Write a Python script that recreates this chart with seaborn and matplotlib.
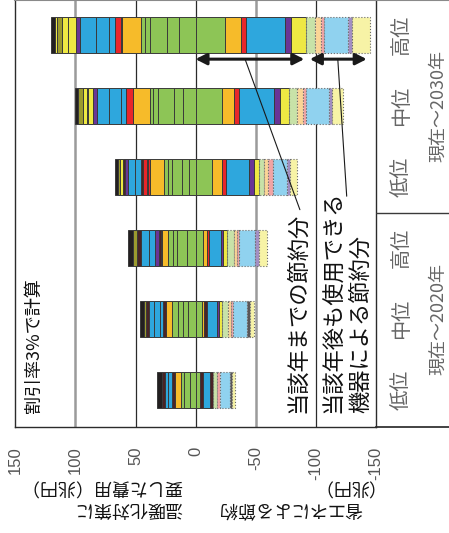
import matplotlib
matplotlib.use("Agg")
import matplotlib.pyplot as plt
import seaborn as sns
import pandas as pd

# ---- categories -------------------------------------------------------
periods = ["現在～2020年", "現在～2030年"]
levels = ["低位", "中位", "高位"]

# ---- segment values (兆円), listed from zero outward ---------------------
# sector codes: G green, A orange, R red, D dark brown, B blue, P purple,
# Y yellow, O olive, K black
cost_2020_low = [("G", 4.6), ("G", 5.0), ("G", 2.8), ("A", 4.75), ("D", 2.75),
                 ("B", 2.8), ("B", 2.75), ("D", 2.75), ("K", 4.2)]
cost_2020_mid = [("G", 6.0), ("G", 4.7), ("G", 4.2), ("G", 4.4), ("A", 5.3),
                 ("D", 2.2), ("B", 2.8), ("B", 5.0), ("B", 3.9), ("D", 2.8),
                 ("O", 1.7), ("K", 3.3)]
cost_2020_high = [("G", 7.3), ("G", 8.3), ("G", 2.8), ("G", 4.2), ("A", 5.5),
                  ("R", 1.0), ("D", 1.0), ("P", 3.6), ("B", 4.75), ("B", 7.2),
                  ("D", 2.8), ("O", 3.3), ("K", 4.2)]
cost_2030_low = [("G", 5.7), ("G", 5.3), ("G", 8.8), ("G", 3.3), ("G", 2.8),
                 ("A", 11.7), ("R", 1.7), ("D", 1.3), ("R", 2.8), ("D", 1.9),
                 ("B", 5.0), ("B", 6.1), ("P", 2.3), ("D", 1.4), ("Y", 2.8),
                 ("O", 1.9), ("K", 2.3)]
cost_2030_mid = [("G", 10.8), ("G", 7.4), ("G", 12.8), ("G", 4.7), ("G", 2.2),
                 ("A", 13.9), ("D", 0.5), ("R", 5.6), ("B", 4.4), ("B", 9.5),
                 ("B", 10.3), ("P", 3.1), ("Y", 4.1), ("Y", 1.1), ("Y", 3.1),
                 ("O", 4.2), ("K", 2.7)]
cost_2030_high = [("G", 13.8), ("G", 10.0), ("G", 14.2), ("G", 4.2), ("G", 3.6),
                  ("A", 15.8), ("D", 0.6), ("R", 5.0), ("B", 5.0), ("B", 10.9),
                  ("B", 13.0), ("P", 3.8), ("Y", 6.2), ("Y", 5.5), ("O", 3.9),
                  ("Y", 1.7), ("K", 3.2)]

# savings realised up to the target year
save_2020_low = [("G", 3.75), ("D", 2.75), ("B", 5.6), ("D", 2.8)]
save_2020_mid = [("G", 5.2), ("A", 1.9), ("D", 2.8), ("B", 8.3), ("P", 1.7), ("Y", 2.0)]
save_2020_high = [("G", 6.5), ("A", 3.3), ("R", 1.7), ("B", 9.5), ("P", 2.2), ("Y", 2.8)]
save_2030_low = [("G", 14.0), ("A", 7.8), ("R", 3.3), ("B", 19.7), ("P", 4.2), ("Y", 3.9)]
save_2030_mid = [("G", 21.7), ("A", 10.6), ("R", 4.2), ("B", 28.6), ("P", 5.0), ("Y", 8.1)]
save_2030_high = [("G", 24.8), ("A", 13.1), ("R", 3.9), ("B", 32.5), ("P", 5.5), ("Y", 12.0)]

# savings from equipment still in use after the target year
later_2020_low = [("G", 3.3), ("R", 2.2), ("B", 8.3), ("K", 1.4), ("Y", 2.75)]
later_2020_mid = [("G", 5.5), ("A", 2.0), ("R", 1.7), ("B", 12.2), ("K", 2.2), ("Y", 3.3)]
later_2020_high = [("G", 6.3), ("A", 2.5), ("R", 1.7), ("B", 13.1), ("P", 3.6), ("Y", 6.2)]
later_2030_low = [("G", 4.4), ("A", 3.3), ("R", 4.2), ("B", 11.1), ("P", 2.8), ("Y", 5.6)]
later_2030_mid = [("G", 6.4), ("A", 4.7), ("R", 2.8), ("B", 18.9), ("P", 2.8), ("Y", 8.9)]
later_2030_high = [("G", 7.75), ("A", 5.0), ("R", 2.9), ("B", 19.6), ("P", 3.3), ("Y", 15.0)]

value_ticks = [150, 100, 50, 0, -50, -100, -150]

# ---- styling ------------------------------------------------------------
sns.set_theme(style="white")
plt.rcParams["font.family"] = ["Noto Sans CJK JP", "DejaVu Sans"]

solid = {"G": "#8dc556", "A": "#f6bb2a", "R": "#e8262a", "D": "#4a2326",
         "B": "#2ea7dd", "P": "#693596", "Y": "#eee843", "O": "#9c9a2e",
         "K": "#231f20"}
light = {"G": "#c8e2a8", "A": "#fbd596", "R": "#f2a4a4", "D": "#8a7070",
         "B": "#90d2ef", "P": "#a38fc4", "Y": "#f7f3a6", "O": "#c8c690",
         "K": "#5a5658"}

bars = pd.DataFrame({
    "period": [p for p in periods for _ in levels],
    "level": levels * 2,
    "cost": [cost_2020_low, cost_2020_mid, cost_2020_high,
             cost_2030_low, cost_2030_mid, cost_2030_high],
    "save": [save_2020_low, save_2020_mid, save_2020_high,
             save_2030_low, save_2030_mid, save_2030_high],
    "later": [later_2020_low, later_2020_mid, later_2020_high,
              later_2030_low, later_2030_mid, later_2030_high],
})
bars["pos"] = 5 - bars.index

W, H = 449, 533
fig = plt.figure(figsize=(W / 100, H / 100), dpi=100)
ax = fig.add_axes([15.5 / W, (H - 427) / H, 360 / W, 427 / H])
panel = fig.add_axes([375.5 / W, (H - 427) / H, 73.5 / W, 427 / H])

ax.set_xlim(150, -150)
ax.set_ylim(5.52, -0.493)
bh = 0.5

for _, row in bars.iterrows():
    y = row["pos"]
    left = 0.0
    for code, v in row["cost"]:
        ax.barh(y, v, left=left, height=bh, color=solid[code],
                edgecolor="#3a3a3a", linewidth=0.7, zorder=3)
        left += v
    left = 0.0
    for code, v in row["save"]:
        ax.barh(y, -v, left=-left, height=bh, color=solid[code],
                edgecolor="#3a3a3a", linewidth=0.7, zorder=3)
        left += v
    for code, v in row["later"]:
        ax.barh(y, -v, left=-left, height=bh, color=light[code],
                edgecolor="#6a6a6a", linewidth=0.8, linestyle=":", zorder=3)
        left += v

# value grid
for v in (100, -50):
    ax.axvline(v, color="#9b9b9b", lw=1.8, zorder=1)
for v in (50, 0, -100):
    ax.axvline(v, color="#2b2b2b", lw=0.9, zorder=1)

ax.set_xticks(value_ticks)
ax.set_xticklabels([str(v) for v in value_ticks], rotation=90,
                   family="Liberation Sans")
ax.tick_params(axis="x", length=0, pad=14, labelsize=12, labelcolor="#555555")
ax.set_yticks([])
for side in ("left", "bottom", "right"):
    ax.spines[side].set_color("#2b2b2b")
    ax.spines[side].set_linewidth(1.0)
ax.spines["top"].set_color("#8a8a8a")
ax.spines["top"].set_linewidth(1.5)

# arrows spanning the two kinds of savings on the top bar
top = bars.iloc[-1]
now_total = sum(v for _, v in top["save"])
all_total = now_total + sum(v for _, v in top["later"])
ay = top["pos"] + 0.34
arrow = dict(arrowstyle="<|-|>,head_length=0.55,head_width=0.28",
             color="#1a1a1a", lw=2.2, shrinkA=0, shrinkB=1)
ax.annotate("", xy=(-now_total, ay), xytext=(0, ay), arrowprops=arrow, zorder=5)
ax.annotate("", xy=(-all_total + 1.5, ay), xytext=(-now_total - 3.5, ay),
            arrowprops=arrow, zorder=5)

lead = dict(arrowstyle="-", color="#1a1a1a", lw=0.8, shrinkA=0, shrinkB=0)
ax.annotate("", xy=(-0.45 * now_total, ay), xytext=(-87, 2.46), arrowprops=lead)
ax.annotate("", xy=(-(now_total + all_total) / 2, ay), xytext=(-126, 2.27),
            arrowprops=lead)

ax.text(-85.4, 5.32, "当該年までの節約分", rotation=90, ha="center",
        va="bottom", fontsize=16, color="#111111")
ax.text(-126.3, 5.32, "当該年後も使用できる\n機器による節約分", rotation=90,
        ha="center", va="bottom", fontsize=16, color="#111111",
        multialignment="left", linespacing=1.25)
ax.text(134.5, 5.32, "割引率3%で計算", rotation=90, ha="center", va="bottom",
        fontsize=13, color="#111111")

# category panel on the right
panel.set_xlim(0, 1)
panel.set_ylim(ax.get_ylim())
panel.set_xticks([])
panel.set_yticks([])
panel.patch.set_alpha(0)
panel.spines["left"].set_visible(False)
panel.spines["right"].set_visible(False)
panel.spines["bottom"].set_color("#2b2b2b")
panel.spines["top"].set_color("#8a8a8a")
panel.spines["top"].set_linewidth(1.5)
panel.axhline(2.5, color="#3a3a3a", lw=1.0)
for _, row in bars.iterrows():
    panel.text(0.35, row["pos"], row["level"], rotation=90, ha="center",
               va="center", fontsize=14.5, color="#666666")
for period, grp in bars.groupby("period", sort=False):
    panel.text(0.85, grp["pos"].mean(), period, rotation=90, ha="center",
               va="center", fontsize=13, color="#666666")

# value-axis titles (upside down along the bottom)
fig.text(182 / W, 1 - 477 / H, "温暖化対策に\n要した費用（兆円）", rotation=180,
         ha="right", va="top", multialignment="left", fontsize=13,
         color="#111111", linespacing=1.3)
fig.text(362 / W, 1 - 477 / H, "省エネによる節約\n（兆円）", rotation=180,
         ha="right", va="top", multialignment="left", fontsize=13,
         color="#111111", linespacing=1.3)

fig.savefig("out.png", dpi=100)
